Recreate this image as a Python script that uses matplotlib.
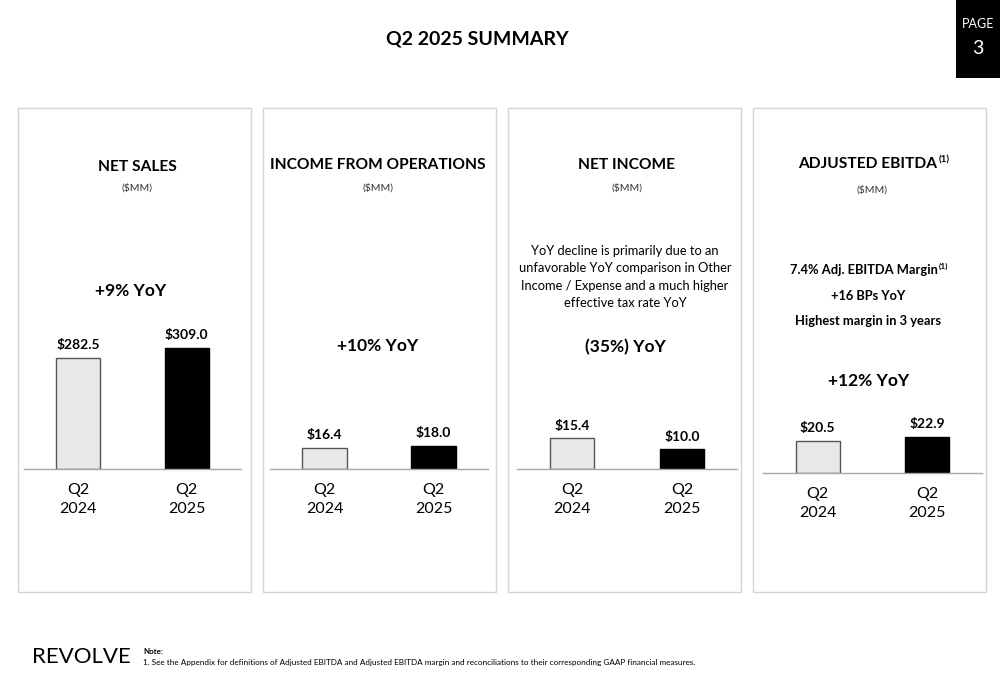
import matplotlib.pyplot as plt
from matplotlib.patches import Rectangle

plt.rcParams['font.family'] = ['Lato', 'DejaVu Sans']

# Data
periods = ['Q2\n2024', 'Q2\n2025']
panel_titles = ['NET SALES', 'INCOME FROM OPERATIONS', 'NET INCOME', 'ADJUSTED EBITDA']
net_sales = [282.5, 309.0]
income_ops = [16.4, 18.0]
net_income = [15.4, 10.0]
adj_ebitda = [20.5, 22.9]
yoy_labels = ['+9% YoY', '+10% YoY', '(35%) YoY', '+12% YoY']
net_income_note = ('YoY decline is primarily due to an\nunfavorable YoY comparison in Other\n'
                   'Income / Expense and a much higher\neffective tax rate YoY')
ebitda_notes = ['7.4% Adj. EBITDA Margin', '+16 BPs YoY', 'Highest margin in 3 years']
footnote = ('1. See the Appendix for definitions of Adjusted EBITDA and Adjusted EBITDA margin '
            'and reconciliations to their corresponding GAAP financial measures.')

W, H = 1000, 685
fig = plt.figure(figsize=(10, 6.85), dpi=100)
fig.patch.set_facecolor('white')


def fx(x):
    return x / W


def fy(y):
    return 1 - y / H


def superscript(t, size):
    # small "(1)" hung off the top right corner of a text
    fig.add_artist(plt.Annotation('(1)', xy=(1, 1), xycoords=t, xytext=(0.5, 1),
                                  textcoords='offset points', ha='left', va='top',
                                  fontsize=size, fontweight='bold'))


# title and page tag
fig.text(fx(477), fy(39), 'Q2 2025 SUMMARY', ha='center', va='center',
         fontsize=14, fontweight='bold')
fig.patches.append(Rectangle((fx(956), fy(78)), fx(44), 78 / H, transform=fig.transFigure,
                             facecolor='black', edgecolor='none'))
fig.text(fx(978), fy(24), 'PAGE', ha='center', va='center', fontsize=9, color='white')
fig.text(fx(978), fy(48), '3', ha='center', va='center', fontsize=14, color='white')

# panels: left x of panel, axis line x range, baseline y, px per unit
panels = [
    dict(px=18, x0=24, x1=241, base=469, scale=0.393, vals=net_sales),
    dict(px=263, x0=270, x1=488, base=469, scale=1.3, vals=income_ops),
    dict(px=508, x0=517, x1=737, base=469, scale=2.0, vals=net_income),
    dict(px=753, x0=763, x1=982, base=473, scale=1.58, vals=adj_ebitda),
]
bar_colors = ['#e8e8e8', 'black']
edge_colors = ['#555555', 'black']

for i, p in enumerate(panels):
    # panel frame
    fig.patches.append(Rectangle((fx(p['px']), fy(592)), fx(233), 484 / H,
                                 transform=fig.transFigure, facecolor='none',
                                 edgecolor='#d4d4d4', linewidth=1.0))
    ah = 200
    ax = fig.add_axes([fx(p['x0']), fy(p['base']), fx(p['x1'] - p['x0']), ah / H])
    ax.set_facecolor('none')
    ax.bar([0, 1], p['vals'], width=0.405, color=bar_colors, edgecolor=edge_colors,
           linewidth=1.0)
    ax.set_xlim(-0.5, 1.5)
    ax.set_ylim(0, ah / p['scale'])
    for s in ['top', 'right', 'left']:
        ax.spines[s].set_visible(False)
    ax.spines['bottom'].set_color('#a6a6a6')
    ax.spines['bottom'].set_linewidth(1.0)
    ax.set_yticks([])
    ax.set_xticks([0, 1])
    ax.set_xticklabels(periods, fontsize=11.5)
    ax.tick_params(axis='x', length=0, pad=10)
    for lbl in ax.get_xticklabels():
        lbl.set_linespacing(1.5)
    for j, v in enumerate(p['vals']):
        ax.annotate(f'${v:.1f}', (j, v), xytext=(0, 9), textcoords='offset points',
                    ha='center', va='center', fontsize=10, fontweight='bold')

# headings
heads = [(137, 167), (378, 165), (627, 165), (868, 164)]
subs = [(137, 188), (378, 188), (627, 188), (872, 190)]
for i, (hx, hy) in enumerate(heads):
    t = fig.text(fx(hx), fy(hy), panel_titles[i], ha='center', va='center',
                 fontsize=11.2, fontweight='bold')
    if i == 3:
        superscript(t, 7)
    fig.text(fx(subs[i][0]), fy(subs[i][1]), '($MM)', ha='center', va='center',
             fontsize=7.5, color='#333333')

# YoY labels
yoy_pos = [(131, 291), (378, 346), (625, 347), (869, 381)]
for (x, y), lab in zip(yoy_pos, yoy_labels):
    fig.text(fx(x), fy(y), lab, ha='center', va='center', fontsize=12.5, fontweight='bold')

fig.text(fx(625), fy(277), net_income_note, ha='center', va='center', fontsize=9.3,
         linespacing=1.55)

ebitda_y = [270, 296, 321]
for k, (line, y) in enumerate(zip(ebitda_notes, ebitda_y)):
    t = fig.text(fx(864 if k == 0 else 868), fy(y), line, ha='center', va='center',
                 fontsize=9.3, fontweight='bold')
    if k == 0:
        superscript(t, 6)

# footer
fig.text(fx(32), fy(657), 'REVOLVE', ha='left', va='center', fontsize=16)
fig.text(fx(143), fy(651), 'Note:', ha='left', va='center', fontsize=5.8, fontweight='bold')
fig.text(fx(143), fy(663), footnote, ha='left', va='center', fontsize=5.85)

fig.savefig('out.png', dpi=100)
